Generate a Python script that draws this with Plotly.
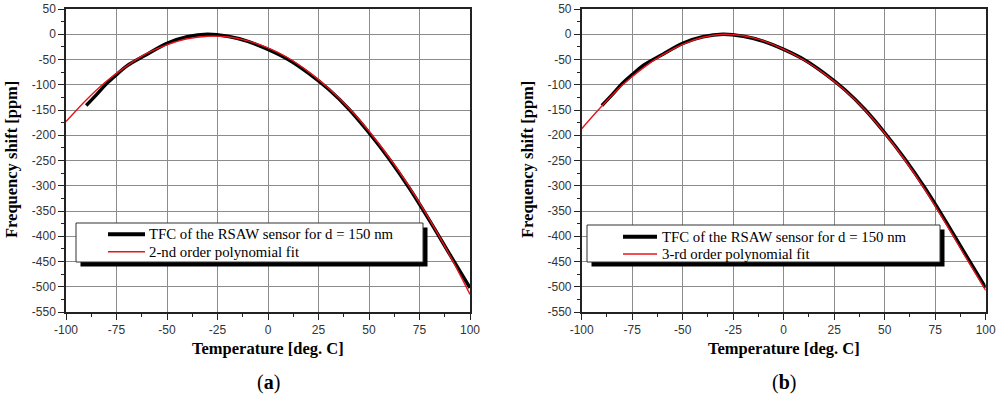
import plotly.graph_objects as go

# ---------------- data ----------------
tfc_temp = [-90, -85, -80, -75, -70, -60, -50, -40, -30, -20, -10, 0, 10, 20, 30, 40, 50, 60, 70, 80, 90, 100]
tfc_shift = [-141, -120, -98, -80, -63, -40, -18, -5, 0, -4, -14, -30, -50, -77, -109, -148, -195, -247, -305, -369, -436, -502]

fit_temp = [-100, -90, -80, -70, -60, -50, -40, -30, -20, -10, 0, 10, 20, 30, 40, 50, 60, 70, 80, 90, 100]
fit2_shift = [-173, -130, -93, -63, -38, -21, -9, -4, -5, -13, -27, -47, -74, -107, -146, -192, -244, -302, -367, -438, -515]
fit3_shift = [-187, -142, -101, -68, -41, -20, -6, 0, -3, -13, -30, -51, -78, -110, -149, -196, -249, -308, -373, -441, -507]

x_ticks = [-100, -75, -50, -25, 0, 25, 50, 75, 100]
x_ticklabels = ["-100", "-75", "-50", "-25", "0", "25", "50", "75", "100"]
y_ticks = [50, 0, -50, -100, -150, -200, -250, -300, -350, -400, -450, -500, -550]
y_ticklabels = ["50", "0", "-50", "-100", "-150", "-200", "-250", "-300", "-350", "-400", "-450", "-500", "-550"]

tfc_label = "TFC of the RSAW sensor for d = 150 nm"
fit2_label = "2-nd order polynomial fit"
fit3_label = "3-rd order polynomial fit"
x_title = "Temperature [deg. C]"
y_title = "Frequency shift [ppm]"
panel_labels = ["a", "b"]

# ---------------- figure ----------------
W, H = 1000, 396


def px(x):
    return x / W


def py(y):
    return 1 - y / H


fig = go.Figure()

fig.add_trace(go.Scatter(x=tfc_temp, y=tfc_shift, mode="lines", line=dict(color="black", width=3.5, shape="spline"),
                         xaxis="x", yaxis="y", showlegend=False))
fig.add_trace(go.Scatter(x=fit_temp, y=fit2_shift, mode="lines", line=dict(color="#e8141c", width=1.4, shape="spline"),
                         xaxis="x", yaxis="y", showlegend=False))
fig.add_trace(go.Scatter(x=tfc_temp, y=tfc_shift, mode="lines", line=dict(color="black", width=3.5, shape="spline"),
                         xaxis="x2", yaxis="y2", showlegend=False))
fig.add_trace(go.Scatter(x=fit_temp, y=fit3_shift, mode="lines", line=dict(color="#e8141c", width=1.4, shape="spline"),
                         xaxis="x2", yaxis="y2", showlegend=False))

ydom = [py(312), py(9)]
tickfont = dict(family="Liberation Sans, Arial, sans-serif", size=12, color="#333333")


def xaxis(dom, anchor):
    return dict(domain=dom, anchor=anchor, range=[-100, 100], tickvals=x_ticks, ticktext=x_ticklabels,
                automargin=False,
                ticks="outside", ticklen=6, tickwidth=1.2, tickcolor="#222",
                minor=dict(dtick=12.5, ticks="outside", ticklen=3, tickwidth=1, tickcolor="#222", showgrid=False),
                showline=True, linecolor="#222", linewidth=1.5, mirror=True,
                showgrid=True, gridcolor="#8c8c8c", gridwidth=1, zeroline=False,
                tickfont=tickfont)


def yaxis(anchor):
    return dict(domain=ydom, anchor=anchor, range=[-550, 50], tickvals=y_ticks, ticktext=y_ticklabels,
                automargin=False,
                ticks="outside", ticklen=6, tickwidth=1.2, tickcolor="#222",
                minor=dict(dtick=25, ticks="outside", ticklen=3, tickwidth=1, tickcolor="#222", showgrid=False),
                showline=True, linecolor="#222", linewidth=1.5, mirror=True,
                showgrid=True, gridcolor="#8c8c8c", gridwidth=1, zeroline=False,
                tickfont=tickfont)


fig.update_layout(
    width=W, height=H,
    margin=dict(l=0, r=0, t=0, b=0, autoexpand=False),
    paper_bgcolor="white", plot_bgcolor="white",
    xaxis=xaxis([px(66), px(470)], "y"),
    yaxis=yaxis("x"),
    xaxis2=xaxis([px(581.7), px(985.7)], "y2"),
    yaxis2=yaxis("x2"),
)

serif = "Liberation Serif, Times New Roman, serif"
shapes = []
annotations = []


def add_legend(bx0, by0, bx1, by1, lx0, lx1, r1, r2, tx, label2):
    shapes.append(dict(type="rect", xref="paper", yref="paper", x0=px(bx0 + 4.5), x1=px(bx1 + 4.5),
                       y0=py(by0 + 4.5), y1=py(by1 + 4.5), fillcolor="black", line=dict(width=0), layer="above"))
    shapes.append(dict(type="rect", xref="paper", yref="paper", x0=px(bx0), x1=px(bx1),
                       y0=py(by0), y1=py(by1), fillcolor="white", line=dict(color="#333", width=1), layer="above"))
    shapes.append(dict(type="line", xref="paper", yref="paper", x0=px(lx0), x1=px(lx1), y0=py(r1), y1=py(r1),
                       line=dict(color="black", width=4), layer="above"))
    shapes.append(dict(type="line", xref="paper", yref="paper", x0=px(lx0), x1=px(lx1), y0=py(r2), y1=py(r2),
                       line=dict(color="#e8141c", width=1.5), layer="above"))
    for yy, txt in [(r1, tfc_label), (r2, label2)]:
        annotations.append(dict(xref="paper", yref="paper", x=px(tx), y=py(yy), xanchor="left", yanchor="middle",
                                text=txt, showarrow=False, font=dict(family=serif, size=14.8, color="black")))


add_legend(76, 223, 423, 262, 108, 145, 234.3, 251.7, 147, fit2_label)
add_legend(587, 225, 940, 262, 623, 657, 236.7, 254, 660, fit3_label)

for cx, ytx, lab in [(268, 12, panel_labels[0]), (783.7, 528, panel_labels[1])]:
    annotations.append(dict(xref="paper", yref="paper", x=px(cx), y=py(348), xanchor="center", yanchor="middle",
                            text="<b>" + x_title + "</b>", showarrow=False,
                            font=dict(family=serif, size=16.5, color="black")))
    annotations.append(dict(xref="paper", yref="paper", x=px(ytx), y=py(160), xanchor="center", yanchor="middle",
                            text="<b>" + y_title + "</b>", textangle=-90, showarrow=False,
                            font=dict(family=serif, size=16.5, color="black")))
    annotations.append(dict(xref="paper", yref="paper", x=px(cx), y=py(382), xanchor="center", yanchor="middle",
                            text="(<b>" + lab + "</b>)", showarrow=False,
                            font=dict(family=serif, size=20, color="black")))

fig.update_layout(shapes=shapes, annotations=annotations)

fig.write_html("out.html", config={"displayModeBar": False},
               post_script="document.body.style.margin='0';document.body.style.overflow='hidden';"
                           "document.documentElement.style.overflow='hidden';")
